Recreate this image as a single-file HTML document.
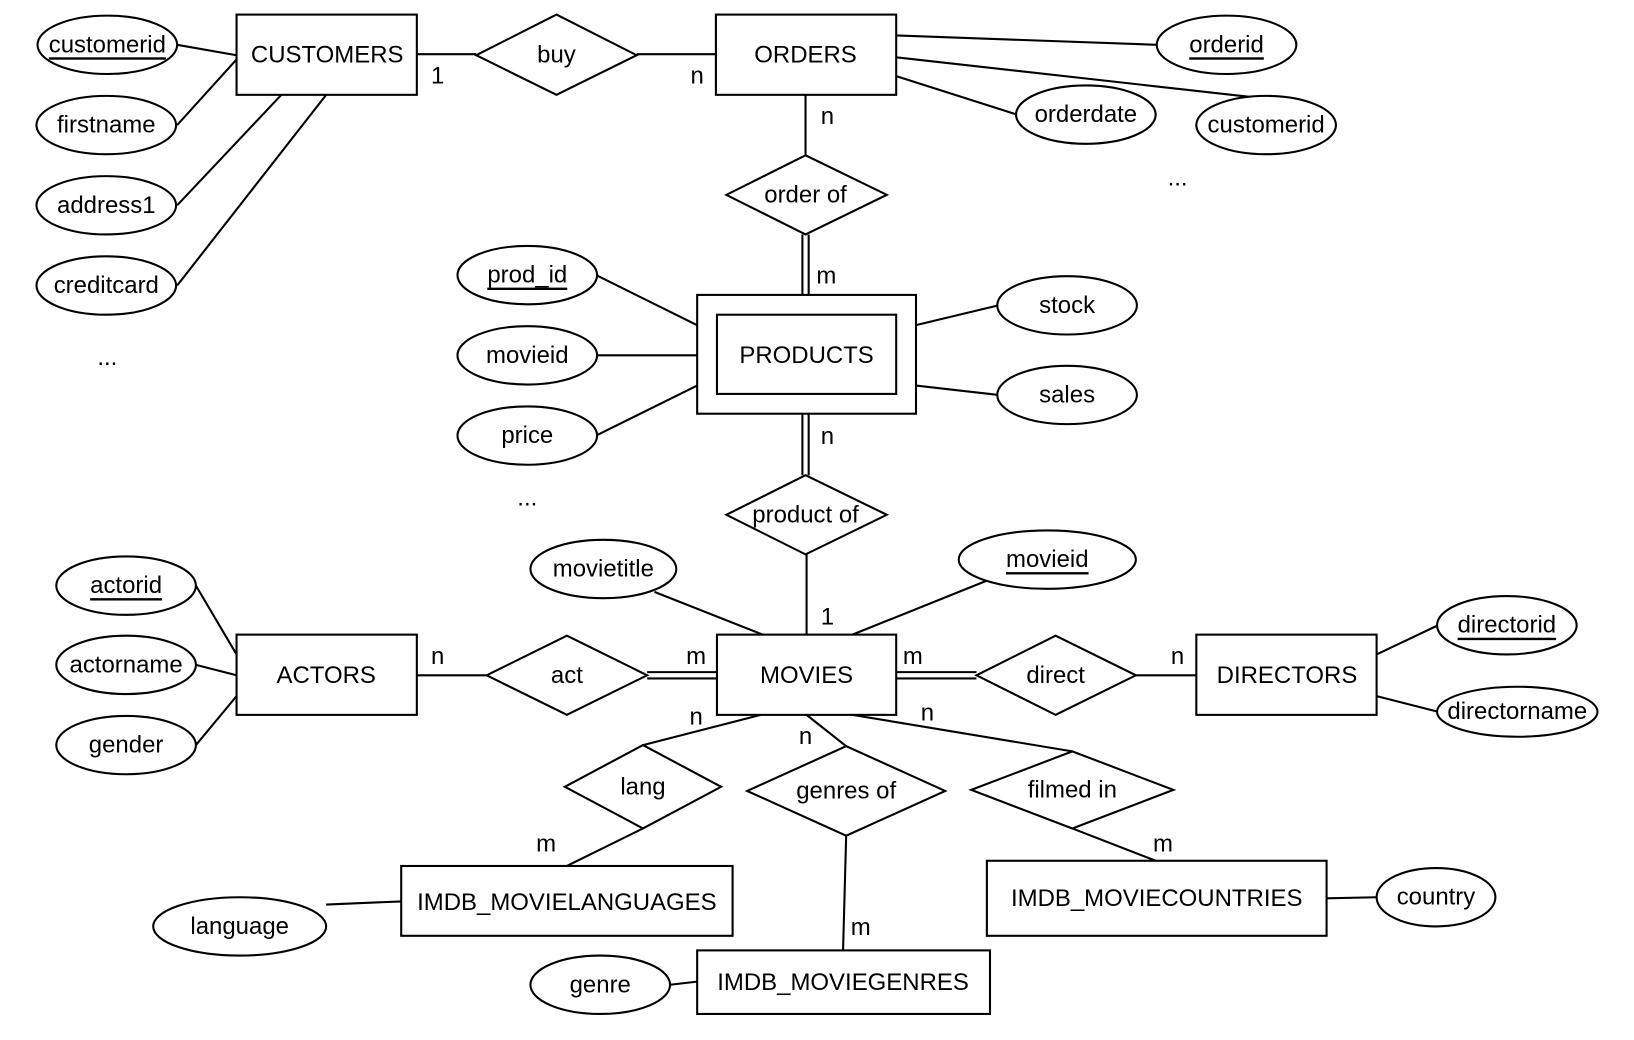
<!DOCTYPE html>
<html><head><meta charset="utf-8"><style>html,body{margin:0;padding:0;background:#fff}svg{display:block}</style></head>
<body>
<svg width="1634" height="1040" viewBox="0 0 1568 998" preserveAspectRatio="none" xmlns="http://www.w3.org/2000/svg" font-family="Liberation Sans, Arial, sans-serif" font-size="23">
<g stroke="#000" stroke-width="2" fill="none">
<line x1="400" y1="52" x2="457" y2="52"/><line x1="611" y1="52" x2="687" y2="52"/>
<line x1="170" y1="43" x2="227" y2="53"/><line x1="170" y1="120" x2="227" y2="57"/>
<line x1="170" y1="197" x2="270" y2="91"/><line x1="170" y1="274" x2="313" y2="91"/>
<line x1="860" y1="34" x2="1110" y2="43"/><line x1="860" y1="73" x2="976" y2="110"/>
<line x1="860" y1="55" x2="1200" y2="93"/>
<line x1="773" y1="91" x2="773" y2="149"/>
<line x1="770" y1="225" x2="770" y2="283"/><line x1="776" y1="225" x2="776" y2="283"/>
<line x1="572" y1="264" x2="669" y2="312"/><line x1="572" y1="341" x2="669" y2="341"/><line x1="572" y1="418" x2="669" y2="370"/>
<line x1="879" y1="312" x2="958" y2="293"/><line x1="879" y1="370" x2="958" y2="379"/>
<line x1="770" y1="397" x2="770" y2="456"/><line x1="776" y1="397" x2="776" y2="456"/>
<line x1="774" y1="532" x2="774" y2="609"/>
<line x1="628" y1="568" x2="732" y2="609"/><line x1="950" y1="556" x2="818" y2="609"/>
<line x1="400" y1="648" x2="467" y2="648"/>
<line x1="621" y1="645" x2="688" y2="645"/><line x1="621" y1="651" x2="688" y2="651"/>
<line x1="860" y1="645" x2="937" y2="645"/><line x1="860" y1="651" x2="937" y2="651"/>
<line x1="1090" y1="648" x2="1148" y2="648"/>
<line x1="1321" y1="628" x2="1380" y2="600"/><line x1="1321" y1="668" x2="1380" y2="683"/>
<line x1="188" y1="562" x2="227" y2="628"/><line x1="188" y1="638" x2="227" y2="648"/><line x1="188" y1="715" x2="227" y2="668"/>
<line x1="730" y1="686" x2="617" y2="715"/><line x1="617" y1="795" x2="544" y2="831"/>
<line x1="313" y1="868" x2="385" y2="865"/>
<line x1="774" y1="686" x2="812" y2="716"/><line x1="812" y1="802" x2="809" y2="912"/>
<line x1="643" y1="945" x2="669" y2="942"/>
<line x1="818" y1="686" x2="1029" y2="721"/><line x1="1029" y1="795" x2="1109" y2="826"/>
<line x1="1273" y1="862" x2="1321" y2="861"/>
</g>
<g stroke="#000" stroke-width="2" fill="#fff">
<rect x="227" y="14" width="173" height="77"/><rect x="687" y="14" width="173" height="77"/>
<polygon points="457,53 534,14 611,53 534,91"/>
<polygon points="697,187 773,149 851,187 773,225"/>
<rect x="669" y="283" width="210" height="114"/><rect x="688" y="302" width="172" height="76"/>
<polygon points="697,494 773,456 851,494 773,532"/>
<rect x="688" y="609" width="172" height="77"/><rect x="227" y="609" width="173" height="77"/><rect x="1148" y="609" width="173" height="77"/>
<polygon points="467,648 544,610 621,648 544,686"/>
<polygon points="937,648 1013,610 1090,648 1013,686"/>
<polygon points="542,755 617,715 692,755 617,795"/>
<polygon points="717,759 812,716 907,759 812,802"/>
<polygon points="932,758 1029,721 1126,758 1029,795"/>
<rect x="385" y="831" width="318" height="67"/><rect x="669" y="912" width="281" height="61"/><rect x="947" y="826" width="326" height="72"/>
<ellipse cx="103" cy="43" rx="67" ry="28"/><ellipse cx="102" cy="120" rx="67" ry="28"/><ellipse cx="102" cy="197" rx="67" ry="28"/><ellipse cx="102" cy="274" rx="67" ry="28"/>
<ellipse cx="1177" cy="43" rx="67" ry="28"/><ellipse cx="1042" cy="110" rx="67" ry="28"/><ellipse cx="1215" cy="120" rx="67" ry="28"/>
<ellipse cx="506" cy="264" rx="67" ry="28"/><ellipse cx="506" cy="341" rx="67" ry="28"/><ellipse cx="506" cy="418" rx="67" ry="28"/>
<ellipse cx="1024" cy="293" rx="67" ry="28"/><ellipse cx="1024" cy="379" rx="67" ry="28"/>
<ellipse cx="579" cy="546" rx="70" ry="28"/><ellipse cx="1005" cy="537" rx="85" ry="28"/>
<ellipse cx="1446" cy="600" rx="67" ry="28"/><ellipse cx="1456" cy="683" rx="77" ry="24"/>
<ellipse cx="121" cy="562" rx="67" ry="28"/><ellipse cx="121" cy="638" rx="67" ry="28"/><ellipse cx="121" cy="715" rx="67" ry="28"/>
<ellipse cx="230" cy="889" rx="83" ry="28"/><ellipse cx="576" cy="945" rx="67" ry="28"/><ellipse cx="1378" cy="861" rx="57" ry="28"/>
</g>
<g fill="#000" text-anchor="middle" dominant-baseline="central">
<text x="314" y="53">CUSTOMERS</text><text x="534" y="53">buy</text><text x="773" y="53">ORDERS</text>
<text x="773" y="187">order of</text><text x="774" y="341">PRODUCTS</text><text x="773" y="494">product of</text>
<text x="774" y="648">MOVIES</text><text x="313" y="648">ACTORS</text><text x="1235" y="648">DIRECTORS</text>
<text x="544" y="648">act</text><text x="1013" y="648">direct</text>
<text x="617" y="755">lang</text><text x="812" y="759">genres of</text><text x="1029" y="758">filmed in</text>
<text x="544" y="866">IMDB_MOVIELANGUAGES</text><text x="809" y="943">IMDB_MOVIEGENRES</text><text x="1110" y="862">IMDB_MOVIECOUNTRIES</text>
<text x="103" y="43" text-decoration="underline">customerid</text><text x="102" y="120">firstname</text><text x="102" y="197">address1</text><text x="102" y="274">creditcard</text><text x="103" y="343">...</text>
<text x="1177" y="43" text-decoration="underline">orderid</text><text x="1042" y="110">orderdate</text><text x="1215" y="120">customerid</text><text x="1130" y="171">...</text>
<text x="506" y="264" text-decoration="underline">prod_id</text><text x="506" y="341">movieid</text><text x="506" y="418">price</text><text x="506" y="478">...</text>
<text x="1024" y="293">stock</text><text x="1024" y="379">sales</text>
<text x="579" y="546">movietitle</text><text x="1005" y="537" text-decoration="underline">movieid</text>
<text x="1446" y="600" text-decoration="underline">directorid</text><text x="1456" y="683">directorname</text>
<text x="121" y="562" text-decoration="underline">actorid</text><text x="121" y="638">actorname</text><text x="121" y="715">gender</text>
<text x="230" y="889">language</text><text x="576" y="945">genre</text><text x="1378" y="861">country</text>
<text x="420" y="73">1</text><text x="669" y="73">n</text><text x="794" y="112">n</text><text x="793" y="265">m</text>
<text x="794" y="419">n</text><text x="794" y="592">1</text>
<text x="420" y="630">n</text><text x="668" y="630">m</text><text x="876" y="630">m</text><text x="1130" y="630">n</text>
<text x="668" y="688">n</text><text x="524" y="810">m</text><text x="773" y="707">n</text><text x="826" y="890">m</text>
<text x="890" y="684">n</text><text x="1116" y="810">m</text>
</g>
</svg>
</body></html>
